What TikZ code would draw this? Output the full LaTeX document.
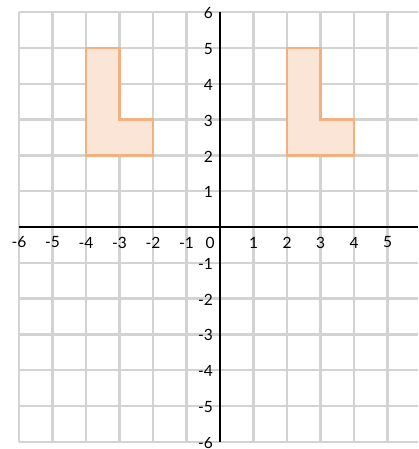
\documentclass[tikz,border=0pt]{standalone}
\usepackage{fontspec}
\setmainfont{Lato}
\definecolor{gridgray}{HTML}{D3D3D3}
\definecolor{lstroke}{HTML}{F5B080}
\definecolor{lfill}{HTML}{FBE5D7}
\begin{document}
\begin{tikzpicture}[x=33.5pt,y=35.8pt,
  gridline/.style={line width=2.4pt,draw=gridgray},
  axisline/.style={line width=2.8pt,draw=black},
  lshape/.style={line width=2.6pt,draw=lstroke,fill=lfill},
  ticklabel/.style={font=\fontsize{15.5}{18}\selectfont,inner sep=0pt}]

  \useasboundingbox (-6.567,-6.2) rectangle (5.91,6.34);

  % grid
  \foreach \x in {-6,...,5}
    \draw[gridline] (\x,-6) -- (\x,6);
  \foreach \y in {-6,...,6}
    \draw[gridline] (-6,\y) -- (5.91,\y);

  % the two L shapes
  \draw[lshape] (-4,2) -- (-4,5) -- (-3,5) -- (-3,3) -- (-2,3) -- (-2,2) -- cycle;
  \draw[lshape] (2,2) -- (2,5) -- (3,5) -- (3,3) -- (4,3) -- (4,2) -- cycle;

  % axes
  \coordinate (xmin) at (-6,0);
  \coordinate (xmax) at (5.91,0);
  \coordinate (ymin) at (0,-6);
  \coordinate (ymax) at (0,6);
  \draw[axisline] (xmin) -- (xmax);
  \draw[axisline] (ymin) -- (ymax);

  % tick labels
  \foreach \x in {-6,...,-1,1,2,...,5}
    \node[ticklabel] (xl\x) at (\x,0) [yshift=-15.5pt] {\x};
  \node[ticklabel] (zero) at (0,0) [xshift=-10pt,yshift=-15.5pt] {0};
  \foreach \y in {-6,...,-1,1,2,...,6}
    \node[ticklabel,anchor=east] (yl\y) at (0,\y) [xshift=-7pt,yshift=-1pt] {\y};

\end{tikzpicture}
\end{document}
